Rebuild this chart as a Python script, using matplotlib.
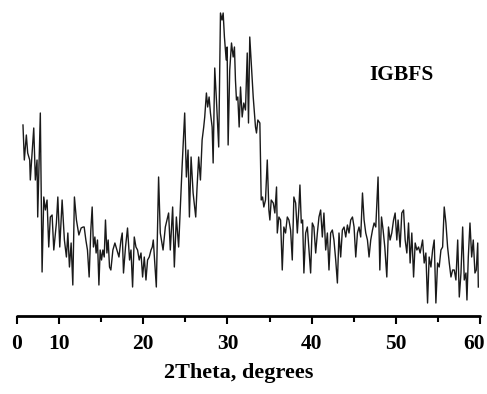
# XRD pattern of IGBFS
import matplotlib.pyplot as plt
import matplotlib.transforms as mtransforms
from matplotlib.ticker import FixedLocator

# 2theta (degrees)
two_theta = [
    5.71, 5.87, 6.11, 6.27, 6.51, 6.58, 6.99, 7.18, 7.38, 7.46, 7.77, 7.98, 8.18, 8.37, 8.57, 8.77, 8.96, 9.17, 9.37, 9.68,
    9.85, 10.08, 10.36, 10.63, 10.87, 11.04, 11.23, 11.43, 11.63, 11.82, 12.06, 12.35, 12.62, 12.86,
    12.98, 13.18, 13.37, 13.57, 13.77, 13.93, 14.08, 14.25, 14.40, 14.56, 14.73, 14.88, 15.04, 15.20, 15.36, 15.51,
    15.68, 15.83, 15.99, 16.15, 16.39, 16.63, 16.87, 17.11, 17.35, 17.50, 17.65, 17.89, 18.13, 18.37, 18.54, 18.73,
    18.93, 19.13, 19.32, 19.52, 19.73, 19.92, 20.12, 20.32, 20.51, 20.71, 20.92,
    21.07, 21.19, 21.55, 21.82, 22.02, 22.35, 22.62, 23.01, 23.21, 23.49, 23.69, 23.93, 24.20, 24.61, 24.92, 25.12,
    25.32, 25.48, 25.68, 25.92, 26.23, 26.39, 26.58, 26.79, 26.99, 27.18, 27.30, 27.50, 27.65, 27.82, 27.98, 28.18,
    28.30, 28.49, 28.69, 28.96, 29.17, 29.35, 29.49, 29.64, 29.85, 29.96, 30.08, 30.27, 30.48, 30.68, 30.83, 30.95,
    31.07, 31.23, 31.39, 31.55, 31.75, 31.94, 32.14, 32.35, 32.50, 32.65, 32.86, 33.06, 33.33, 33.45, 33.61, 33.85,
    34.01, 34.17, 34.32, 34.52, 34.73, 34.92, 35.04, 35.20, 35.44, 35.63, 35.83, 35.92, 36.11, 36.31, 36.51, 36.70,
    36.90, 37.11, 37.30, 37.50,
    37.70, 37.89, 38.10, 38.30, 38.49, 38.61, 38.77, 38.93, 39.08, 39.29, 39.49, 39.68, 39.88, 40.08, 40.27, 40.48,
    40.68, 40.87, 41.07, 41.27, 41.46, 41.67, 41.87, 42.06, 42.26, 42.46, 42.65, 42.86, 43.06, 43.25, 43.45, 43.65,
    43.85, 44.05, 44.25, 44.44, 44.64, 44.85, 45.04, 45.24, 45.44, 45.63, 45.83, 46.04, 46.23, 46.43, 46.63, 46.82,
    47.02, 47.23, 47.42, 47.62, 47.89, 48.10, 48.30, 48.49, 48.69, 48.93, 49.13, 49.32, 49.52, 49.73, 49.92, 50.12,
    50.27, 50.51, 50.71, 50.92, 51.11, 51.31, 51.51, 51.70, 51.90, 52.11, 52.30, 52.50, 52.70, 52.89, 53.18, 53.37,
    53.57, 53.77, 53.96, 54.17, 54.37, 54.56, 54.76, 54.96, 55.15, 55.36, 55.56, 55.75, 55.95, 56.15, 56.35, 56.55,
    56.75, 56.94, 57.14, 57.35, 57.54, 57.74, 57.94, 58.13, 58.33, 58.45, 58.61, 58.81, 59.01, 59.20, 59.40, 59.56,
    59.73, 59.80,
]

# intensity (a.u.)
intensity = [
    195, 160, 185, 167, 160, 140, 192, 140, 160, 103, 207, 48, 123, 110, 120, 73, 103, 105, 70, 97,
    123, 73, 120, 80, 63, 87, 53, 77, 35, 123, 100, 85, 92, 93,
    93, 80, 70, 43, 90, 113, 73, 83, 67, 80, 35, 70, 60, 70, 63, 100,
    67, 80, 53, 50, 70, 77, 70, 63, 80, 87, 47, 73, 92, 60, 70, 33,
    83, 73, 70, 60, 67, 43, 63, 40, 60, 63, 70,
    73, 80, 33, 143, 87, 70, 93, 107, 70, 113, 53, 103, 73, 153, 207, 143,
    170, 103, 163, 127, 103, 133, 163, 140, 180, 193, 203, 227, 213, 223, 207, 193,
    157, 252, 220, 173, 307, 300, 307, 283, 260, 273, 175, 250, 277, 263, 273, 240,
    220, 223, 193, 233, 203, 217, 210, 267, 197, 283, 253, 223, 193, 187, 200, 197,
    120, 123, 113, 120, 160, 110, 100, 120, 117, 107, 133, 87, 103, 100, 50, 93,
    87, 103, 100, 90,
    60, 123, 117, 87, 113, 135, 97, 100, 47, 87, 93, 70, 47, 97, 93, 67,
    87, 103, 110, 83, 107, 70, 87, 50, 87, 90, 80, 60, 37, 87, 63, 90,
    93, 83, 95, 87, 100, 103, 93, 63, 87, 93, 83, 127, 100, 87, 80, 63,
    80, 90, 97, 93, 143, 50, 103, 90, 73, 43, 93, 80, 87, 100, 107, 80,
    100, 73, 107, 110, 80, 67, 97, 57, 87, 43, 77, 70, 73, 67, 80, 57,
    67, 17, 63, 53, 70, 80, 17, 57, 53, 70, 73, 113, 97, 73, 57, 43,
    50, 50, 40, 80, 23, 47, 93, 40, 47, 20, 63, 97, 63, 80, 47, 50,
    77, 33,
]

tick_pos = [5, 10, 20, 30, 40, 50, 60]
tick_labels = ['0', '10', '20', '30', '40', '50', '60']
minor_pos = [15, 25, 35, 45, 55]

serif = ['Liberation Serif', 'DejaVu Serif']

fig = plt.figure(figsize=(4.87, 3.94), dpi=100)
ax = fig.add_axes([17 / 487, 78 / 394, 463 / 487, 316 / 394])

ax.plot(two_theta, intensity, color='#1a1a1a', linewidth=1.0)

ax.set_xlim(5, 60)
ax.set_ylim(4, 320)

# only the bottom axis is drawn
for side in ['left', 'right', 'top']:
    ax.spines[side].set_visible(False)
ax.spines['bottom'].set_linewidth(2.0)
ax.spines['bottom'].set_capstyle('round')
ax.set_yticks([])

ax.xaxis.set_major_locator(FixedLocator(tick_pos))
ax.xaxis.set_minor_locator(FixedLocator(minor_pos))
ax.set_xticklabels(tick_labels, fontfamily=serif, fontweight='bold', fontsize=15.5)
ax.tick_params(axis='x', which='major', direction='out', length=5.5, width=1.5, pad=7.5)
ax.tick_params(axis='x', which='minor', direction='out', length=4, width=1.5)

# last label sits a bit left of its tick so it stays inside the figure
last = ax.get_xticklabels()[-1]
last.set_transform(last.get_transform() + mtransforms.ScaledTranslation(-6 / 100, 0, fig.dpi_scale_trans))

ax.set_xlabel('2Theta, degrees', fontfamily=serif, fontweight='bold', fontsize=16)
ax.xaxis.set_label_coords((239 - 17) / 463, -0.15)

ax.text(50.7, 240, 'IGBFS', fontfamily=serif, fontweight='bold', fontsize=15.5,
        ha='center', va='baseline')

plt.savefig('out.png', dpi=100)
